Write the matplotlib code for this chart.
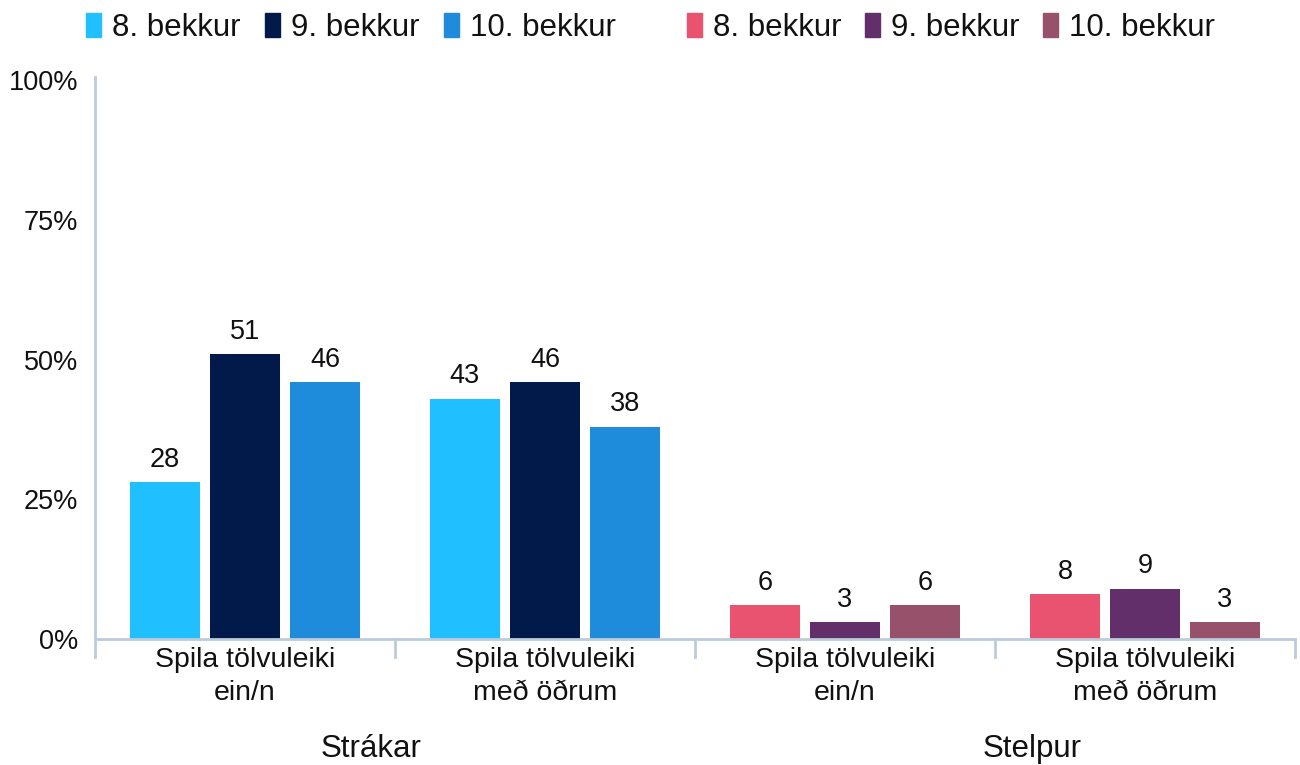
import matplotlib
matplotlib.use("Agg")
import matplotlib.pyplot as plt
from matplotlib.patches import Rectangle
from matplotlib.lines import Line2D
import numpy as np

plt.rcParams['font.family'] = ['Liberation Sans', 'DejaVu Sans']

categories = ["Spila tölvuleiki\nein/n", "Spila tölvuleiki\nmeð öðrum",
              "Spila tölvuleiki\nein/n", "Spila tölvuleiki\nmeð öðrum"]
groups = ["Strákar", "Stelpur"]
grades = ["8. bekkur", "9. bekkur", "10. bekkur"]

# percentages per grade, one value per category
boys_8 = [28, 43]
boys_9 = [51, 46]
boys_10 = [46, 38]
girls_8 = [6, 8]
girls_9 = [3, 9]
girls_10 = [6, 3]

yticks = [0, 25, 50, 75, 100]
ytick_labels = ["0%", "25%", "50%", "75%", "100%"]

boys_colors = ["#20BFFF", "#021A4A", "#1F8BDB"]
girls_colors = ["#E9536F", "#622F6B", "#97516B"]
axis_color = "#BCCCDC"
text_color = "#111111"

W, H = 1300, 765
fig = plt.figure(figsize=(W / 100, H / 100), dpi=100)
ax = fig.add_axes([95 / W, 1 - 639 / H, 1200 / W, (639 - 80) / H])

series = [
    ([0, 1], boys_8, boys_colors[0]),
    ([0, 1], boys_9, boys_colors[1]),
    ([0, 1], boys_10, boys_colors[2]),
    ([2, 3], girls_8, girls_colors[0]),
    ([2, 3], girls_9, girls_colors[1]),
    ([2, 3], girls_10, girls_colors[2]),
]
offsets = [-80 / 300, 0, 80 / 300]
width = 70 / 300
for i, (pos, vals, col) in enumerate(series):
    x = np.array(pos) + offsets[i % 3]
    bars = ax.bar(x, vals, width=width, color=col, zorder=2)
    for b, v in zip(bars, vals):
        ax.annotate(f"{v}", (b.get_x() + b.get_width() / 2, b.get_height()),
                    xytext=(0, 11), textcoords="offset points",
                    ha="center", va="baseline", fontsize=19.5, color=text_color)

ax.set_xlim(-0.5, 3.5)
ax.set_ylim(0, 100)
ax.set_yticks(yticks)
ax.set_yticklabels(ytick_labels, fontsize=19.5, color=text_color)
ax.tick_params(axis="y", length=0, pad=12)
ax.set_xticks([])
for s in ax.spines.values():
    s.set_visible(False)

# axis lines: left spine and baseline with category separators
trans = ax.get_xaxis_transform()
plot_h = 639 - 80
ext = 18 / plot_h
ax.add_line(Line2D([-0.5, -0.5], [-ext, 1.005], transform=trans, color=axis_color,
                   lw=2, clip_on=False, zorder=3))
ax.add_line(Line2D([-0.5, 3.5], [0, 0], transform=trans, color=axis_color,
                   lw=2, clip_on=False, zorder=3))
for b in [0.5, 1.5, 2.5, 3.5]:
    ax.add_line(Line2D([b, b], [-ext, 0], transform=trans, color=axis_color,
                       lw=2, clip_on=False, zorder=3))

for i, c in enumerate(categories):
    ax.text(i, -8 / plot_h, c, transform=trans, ha="center", va="top",
            fontsize=20.5, linespacing=1.33, color=text_color)

fig.text(371 / W, 1 - 757 / H, groups[0], ha="center", va="baseline",
         fontsize=22.5, color=text_color)
fig.text(1032 / W, 1 - 757 / H, groups[1], ha="center", va="baseline",
         fontsize=22.5, color=text_color)

# legend rows drawn as swatches + labels
leg_y = 1 - 25 / H
sw_w, sw_h = 15 / W, 24 / H
left_x = [86, 265, 444]
right_x = [687, 865, 1043]
for xs, cols in [(left_x, boys_colors), (right_x, girls_colors)]:
    for x0, col, lab in zip(xs, cols, grades):
        fig.patches.append(Rectangle((x0 / W, leg_y - sw_h / 2), sw_w, sw_h,
                                     transform=fig.transFigure, color=col))
        fig.text((x0 + 26) / W, leg_y, lab, ha="left", va="center_baseline",
                 fontsize=22.5, color=text_color)

fig.savefig("out.png", dpi=100)
